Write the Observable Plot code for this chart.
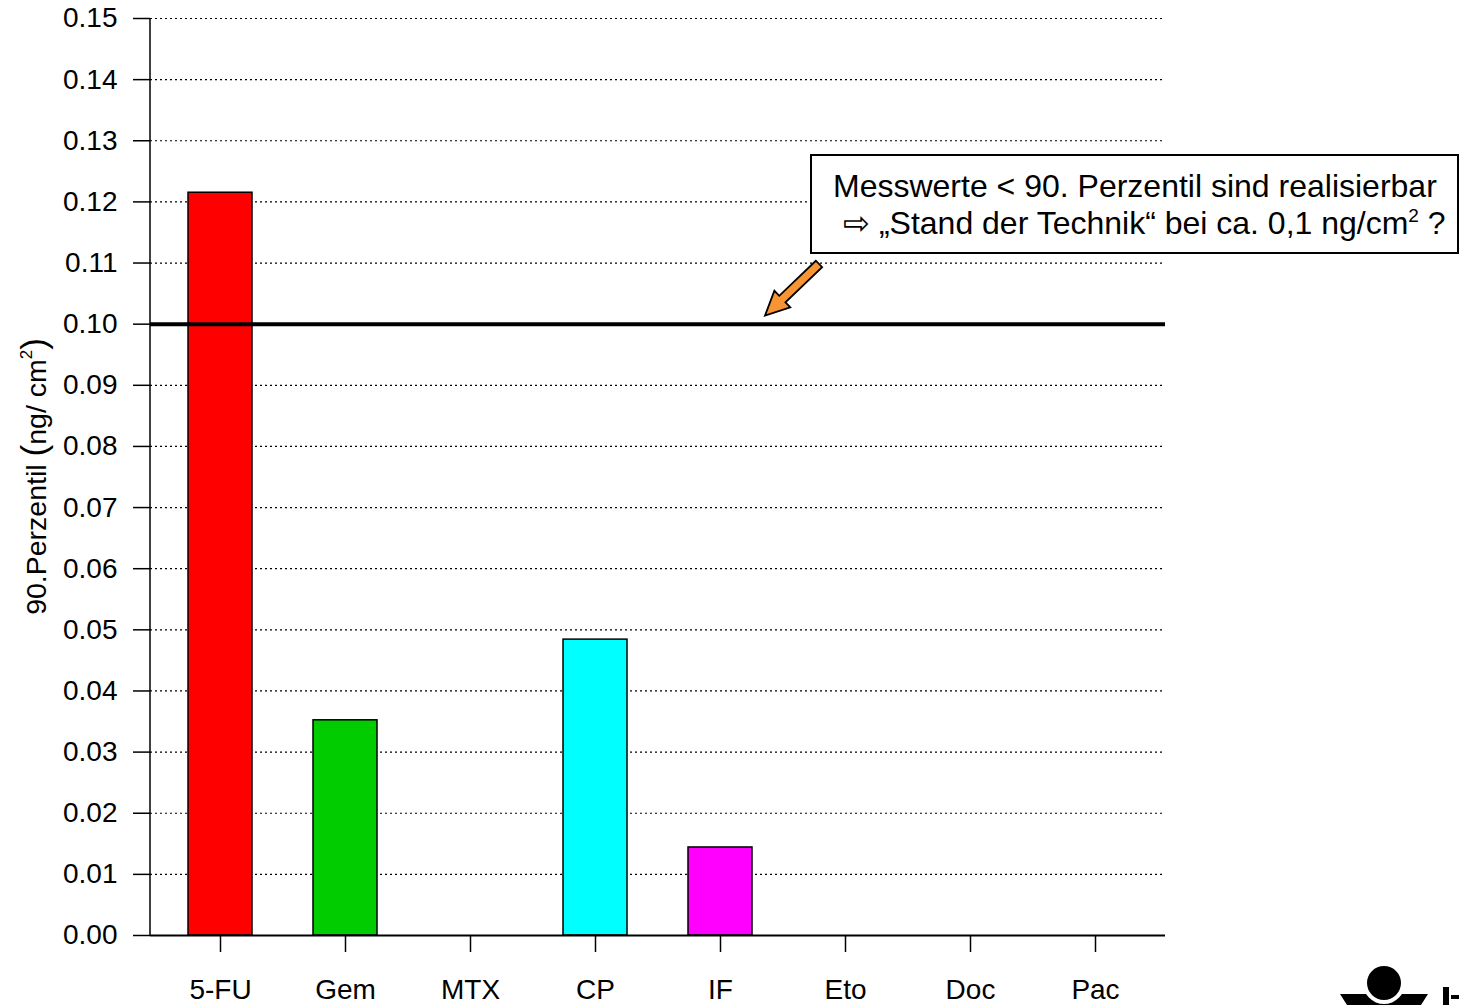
<!DOCTYPE html>
<html>
<head>
<meta charset="utf-8">
<script src="https://cdn.jsdelivr.net/npm/d3@7"></script>
<script src="https://cdn.jsdelivr.net/npm/@observablehq/plot@0.6"></script>
<style>
  html, body { margin: 0; padding: 0; background: white; }
  svg { display: block; }
</style>
</head>
<body>
<div id="chart"></div>
<script>
const categories = ["5-FU", "Gem", "MTX", "CP", "IF", "Eto", "Doc", "Pac"];
const values = [0.1215, 0.0352, 0, 0.0484, 0.0144, 0, 0, 0];
const colors = ["#FF0000", "#00CC00", "#0000FF", "#00FFFF", "#FF00FF", "#FFFF00", "#FF9900", "#996633"];
const yTicks = [0, 0.01, 0.02, 0.03, 0.04, 0.05, 0.06, 0.07, 0.08, 0.09, 0.10, 0.11, 0.12, 0.13, 0.14, 0.15];
const threshold = 0.10;
const yLabel = "90.Perzentil";
const noteLine1 = "Messwerte < 90. Perzentil sind realisierbar";
const noteLine2 = "\u21E8 \u201EStand der Technik\u201C bei ca. 0,1 ng/cm";

const data = categories.map((c, i) => ({name: c, value: values[i], color: colors[i]}));
const FONT = "'Liberation Sans', Arial, Helvetica, sans-serif";

const chart = Plot.plot({
  width: 1459,
  height: 1005,
  marginLeft: 150,
  marginRight: 294,
  marginTop: 18,
  marginBottom: 70,
  style: {fontFamily: FONT, background: "white", color: "black", overflow: "visible"},
  x: {domain: categories, paddingInner: 0.49, paddingOuter: 0.29},
  y: {domain: [0, 0.15]},
  marks: [
    Plot.gridY(yTicks.filter(t => t > 0), {stroke: "black", strokeOpacity: 1, strokeWidth: 1.2, strokeDasharray: "2,3"}),
    Plot.barY(data, {x: "name", y: "value", fill: "color", stroke: "black", strokeWidth: 1.5}),
    Plot.ruleY([threshold], {stroke: "black", strokeWidth: 4}),
    Plot.ruleY([0], {stroke: "black", strokeWidth: 2}),
    Plot.axisY({ticks: yTicks, tickSize: 17, tickPadding: 16, fontSize: 28, tickFormat: d3.format(".2f"), label: null, strokeWidth: 1.5}),
    Plot.axisX({tickSize: 17, tickPadding: 27, fontSize: 28, label: null, strokeWidth: 1.5})
  ]
});

document.getElementById("chart").appendChild(chart);

const svg = d3.select(chart);
const yS = chart.scale("y");
const frameLeft = 150;

// y axis line
svg.append("line")
  .attr("x1", frameLeft).attr("x2", frameLeft)
  .attr("y1", yS.apply(0.15)).attr("y2", yS.apply(0))
  .attr("stroke", "black").attr("stroke-width", 1.5);

// y axis label
const yl = svg.append("text")
  .attr("transform", `translate(46,${(yS.apply(0) + yS.apply(0.15)) / 2}) rotate(-90)`)
  .attr("text-anchor", "middle")
  .attr("font-family", FONT)
  .attr("font-size", 28.5)
  .attr("fill", "black");
yl.append("tspan").text(yLabel + " ");
yl.append("tspan").attr("font-size", 35).text("(");
yl.append("tspan").text("ng/ cm");
yl.append("tspan").attr("font-size", 17).attr("dy", -14).text("2");
yl.append("tspan").attr("font-size", 35).attr("dy", 14).text(")");

// annotation box
const boxTop = 155, boxBottom = 253, boxLeft = 811, boxRight = 1458;
svg.append("rect")
  .attr("x", boxLeft).attr("y", boxTop)
  .attr("width", boxRight - boxLeft).attr("height", boxBottom - boxTop)
  .attr("fill", "white").attr("stroke", "black").attr("stroke-width", 2);
svg.append("text")
  .attr("x", 833).attr("y", 197)
  .attr("text-anchor", "start")
  .attr("font-family", FONT).attr("font-size", 32).attr("fill", "black")
  .text(noteLine1);
const t2 = svg.append("text")
  .attr("x", 843).attr("y", 234)
  .attr("text-anchor", "start")
  .attr("font-family", FONT).attr("font-size", 32).attr("fill", "black");
t2.append("tspan").text(noteLine2);
t2.append("tspan").attr("font-size", 19).attr("dy", -12).text("2");
t2.append("tspan").attr("dy", 12).text(" ?");

// arrow
const tip = [765, yS.apply(threshold) - 8];
const tail = [819, 264];
const dx = tip[0] - tail[0], dy = tip[1] - tail[1];
const L = Math.hypot(dx, dy);
const u = [dx / L, dy / L], n = [-u[1], u[0]];
const shaftW = 4.5, headW = 11.5, headL = 24;
const hb = [tip[0] - headL * u[0], tip[1] - headL * u[1]];
const P = (p, k) => [p[0] + k * n[0], p[1] + k * n[1]];
const pts = [P(tail, shaftW), P(hb, shaftW), P(hb, headW), tip, P(hb, -headW), P(hb, -shaftW), P(tail, -shaftW)];
svg.append("polygon")
  .attr("points", pts.map(p => p.join(",")).join(" "))
  .attr("fill", "#F79433").attr("stroke", "black").attr("stroke-width", 1.8)
  .attr("stroke-linejoin", "miter");

// logo (partially visible, bottom right)
const logo = svg.append("g");
logo.append("polygon").attr("points", "1340,994 1428,994 1421,1005 1347,1005").attr("fill", "black");
logo.append("circle").attr("cx", 1384).attr("cy", 983).attr("r", 21).attr("fill", "white");
logo.append("circle").attr("cx", 1384).attr("cy", 983).attr("r", 17).attr("fill", "black");
logo.append("rect").attr("x", 1443).attr("y", 987).attr("width", 6).attr("height", 18).attr("fill", "black");
logo.append("rect").attr("x", 1451).attr("y", 995).attr("width", 8).attr("height", 4).attr("fill", "black");
</script>
</body>
</html>
